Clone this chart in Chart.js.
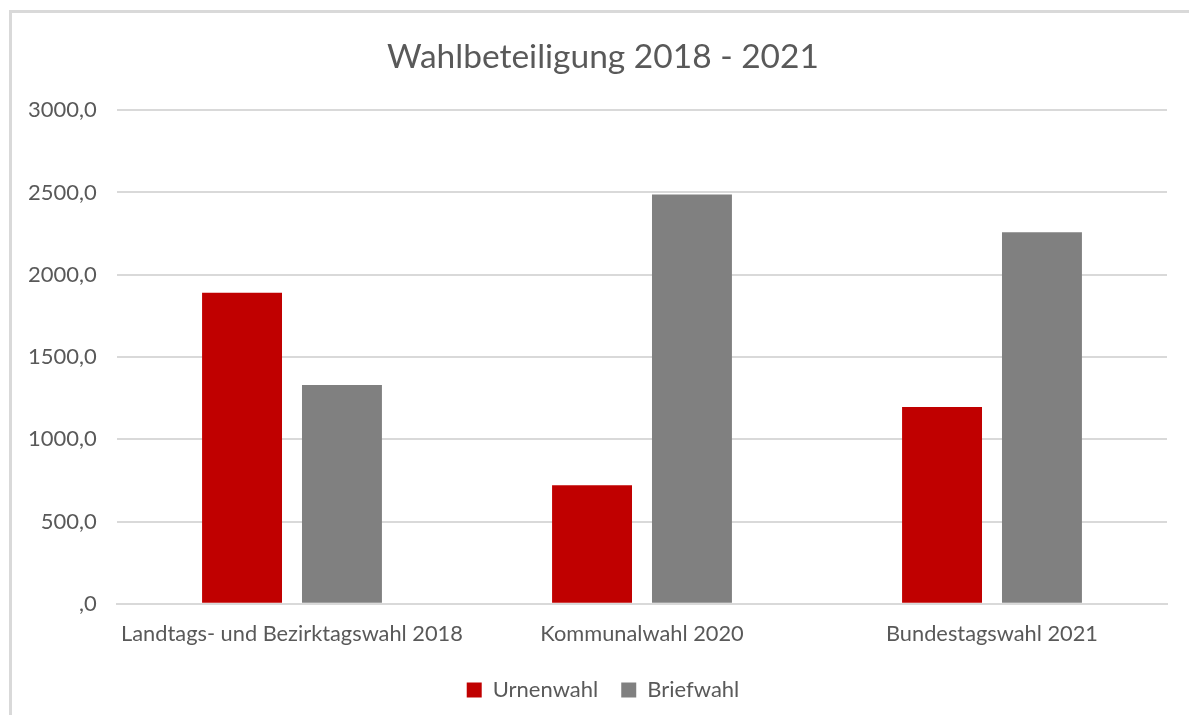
<!DOCTYPE html>
<html>
<head>
<meta charset="utf-8">
<script src="https://cdn.jsdelivr.net/npm/chart.js@4/dist/chart.umd.min.js"></script>
<style>
  html, body { margin: 0; padding: 0; background: #ffffff; overflow: hidden; }
  #frame { position: absolute; left: 9px; top: 10px; width: 1200px; height: 720px;
           border-left: 3px solid #d9d9d9; border-top: 3px solid #d9d9d9; box-sizing: border-box; }
  #wrap { position: absolute; left: 0; top: 0; width: 1189px; height: 715px; }
</style>
</head>
<body>
<div id="frame"></div>
<div id="wrap"><canvas id="c" width="1189" height="715"></canvas></div>
<script>
const categories = ["Landtags- und Bezirktagswahl 2018", "Kommunalwahl 2020", "Bundestagswahl 2021"];
const urnenwahl = [1890, 721, 1196];
const briefwahl = [1330, 2487, 2259];
const seriesNames = ["Urnenwahl", "Briefwahl"];
const yTicks = [0, 500, 1000, 1500, 2000, 2500, 3000];
const titleText = "Wahlbeteiligung 2018 - 2021";

const FONT = "Lato, 'Open Sans', sans-serif";
const TXT = "#595959";

function fmt(v) {
  if (v === 0) return ",0";
  return v.toFixed(1).replace(".", ",");
}

new Chart(document.getElementById("c"), {
  type: "bar",
  data: {
    labels: categories,
    datasets: [
      { label: seriesNames[0], data: urnenwahl, backgroundColor: "#C00000", borderWidth: 0 },
      { label: seriesNames[1], data: briefwahl, backgroundColor: "#808080", borderWidth: 0 }
    ]
  },
  options: {
    responsive: false,
    animation: false,
    devicePixelRatio: 1,
    layout: { padding: { left: 39, right: 22, top: 0, bottom: 4 } },
    datasets: { bar: { categoryPercentage: 0.571, barPercentage: 0.8 } },
    plugins: {
      title: {
        display: true, text: titleText, color: TXT,
        font: { family: FONT, size: 33.5, weight: "normal" },
        padding: { top: 37, bottom: 33 }
      },
      legend: {
        display: true, position: "bottom",
        labels: {
          color: TXT, font: { family: FONT, size: 22 },
          boxWidth: 15, boxHeight: 15, padding: 23
        }
      },
      tooltip: { enabled: false }
    },
    scales: {
      x: {
        grid: { display: false },
        border: { display: true, color: "#d9d9d9", width: 2 },
        ticks: { color: TXT, font: { family: FONT, size: 21.8 }, padding: 9, maxRotation: 0 }
      },
      y: {
        min: 0, max: 3000,
        afterFit(scale) { scale.width = 78; },
        afterBuildTicks(scale) { scale.ticks = yTicks.map(v => ({ value: v })); },
        grid: { color: "#d9d9d9", lineWidth: 2, drawTicks: false },
        border: { display: false },
        ticks: { color: TXT, font: { family: FONT, size: 22 }, mirror: true, crossAlign: "far", padding: -89, callback: v => fmt(v) }
      }
    }
  }
});
</script>
</body>
</html>
